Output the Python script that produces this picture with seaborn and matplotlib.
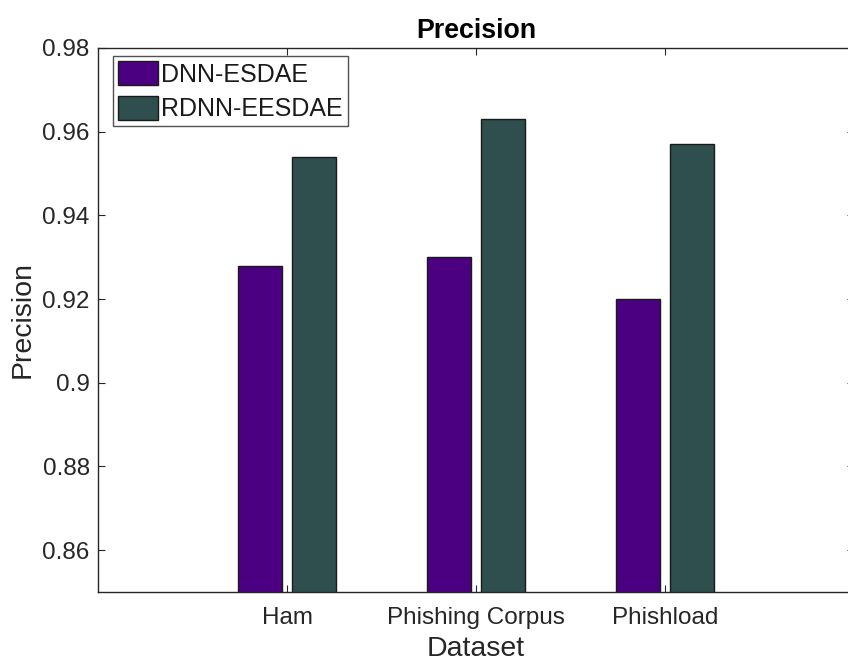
import matplotlib
matplotlib.use("Agg")
import matplotlib.pyplot as plt
import seaborn as sns
import pandas as pd

datasets = ["Ham", "Phishing Corpus", "Phishload"]
dnn_esdae = [0.928, 0.930, 0.920]
rdnn_eesdae = [0.954, 0.963, 0.957]
series_names = ["DNN-ESDAE", "RDNN-EESDAE"]
yticks = [0.86, 0.88, 0.90, 0.92, 0.94, 0.96, 0.98]
ytick_labels = ["0.86", "0.88", "0.9", "0.92", "0.94", "0.96", "0.98"]

df = pd.DataFrame({
    "Dataset": datasets * 2,
    "Precision": dnn_esdae + rdnn_eesdae,
    "Model": [series_names[0]] * 3 + [series_names[1]] * 3,
})

sns.set_theme(style="white")
plt.rcParams["font.family"] = ["Liberation Sans", "DejaVu Sans"]

fig = plt.figure(figsize=(8.48, 6.64), dpi=100)
ax = fig.add_axes([98 / 848, 1 - 592 / 664, 756 / 848, 544 / 664])

sns.barplot(data=df, x="Dataset", y="Precision", hue="Model",
            hue_order=series_names,
            palette=["#4B0082", "#2F4F4F"],
            width=0.576, gap=0.19, edgecolor="#1a1a1a", linewidth=1.0,
            saturation=1, ax=ax, errorbar=None)

ax.set_xlim(-1, 3)
ax.set_ylim(0.85, 0.98)
ax.set_yticks(yticks)
ax.set_yticklabels(ytick_labels)
ax.set_title("Precision", fontsize=19.3, fontweight="bold", pad=7, color="#000000")
ax.set_xlabel("Dataset", fontsize=20.5, color="#262626", labelpad=5)
ax.set_ylabel("Precision", fontsize=20.5, color="#262626", labelpad=5)
ax.tick_params(axis="both", which="major", direction="in", length=5, width=0.8,
               labelsize=17.5, colors="#262626", top=True, right=True,
               bottom=True, left=True)
ax.tick_params(axis="x", pad=11)
ax.tick_params(axis="y", pad=6)
for s in ax.spines.values():
    s.set_visible(True)
    s.set_color("#262626")
    s.set_linewidth(1.0)

leg = ax.legend(loc="upper left", bbox_to_anchor=(15 / 756, 1 - 8 / 544),
                fontsize=18, frameon=True, fancybox=False,
                edgecolor="#262626", borderpad=0.2, handlelength=1.6,
                handleheight=1.12, handletextpad=0.12, labelspacing=0.36,
                borderaxespad=0.0)
leg.get_frame().set_linewidth(1.0)
for t in leg.get_texts():
    t.set_color("#1a1a1a")

fig.savefig("out.png", dpi=100)
